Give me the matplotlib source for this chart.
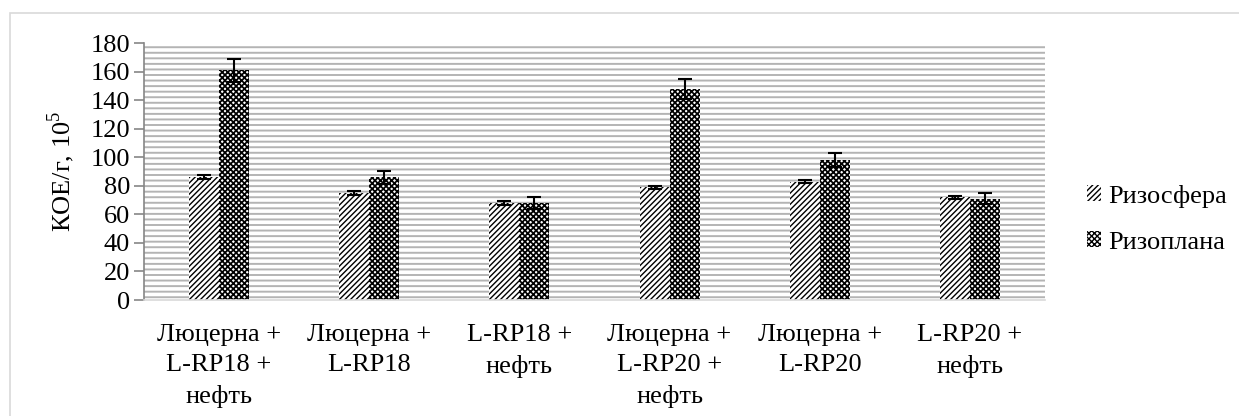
import numpy as np
import matplotlib.pyplot as plt
from matplotlib.patches import Rectangle

plt.rcParams['font.family'] = ['Liberation Serif', 'DejaVu Serif']
plt.rcParams['mathtext.fontset'] = 'custom'
plt.rcParams['mathtext.rm'] = 'Liberation Serif'

# данные
categories = ['Люцерна +\nL-RP18 +\nнефть', 'Люцерна +\nL-RP18', 'L-RP18 +\nнефть',
              'Люцерна +\nL-RP20 +\nнефть', 'Люцерна +\nL-RP20', 'L-RP20 +\nнефть']
rhizosphere = [86, 75, 68, 79, 83, 72]
rhizosphere_err = [1.5, 1.2, 1.5, 1.2, 1.2, 1.0]
rhizoplane = [161, 86, 68, 148, 98, 71]
rhizoplane_err = [8, 4.5, 4, 7, 5, 4]
yticks = np.arange(0, 181, 20)

fig = plt.figure(figsize=(12.39, 4.16), dpi=100)
ax = fig.add_axes([0.1162, 0.2788, 0.8434 - 0.1162, 0.8966 - 0.2788])

# рамка диаграммы (видны только левая и верхняя стороны)
fig.patches.append(Rectangle((10 / 1239, -0.1), 1.2, 1 - 13 / 416 + 0.1, transform=fig.transFigure,
                             facecolor='none', edgecolor='#d9d9d9', linewidth=1.2))

# фон области построения — узкие горизонтальные линии
with plt.rc_context({'hatch.linewidth': 1.4}):
    bg = Rectangle((0, 0), 1, 1, transform=ax.transAxes, facecolor='white',
                   edgecolor='#b4b4b4', hatch='---', linewidth=0, zorder=0)
    ax.add_patch(bg)

x = np.arange(len(categories))
w = 0.2
with plt.rc_context({'hatch.linewidth': 1.0}):
    b1 = ax.bar(x - w / 2, rhizosphere, w, color='white', edgecolor='black', hatch='//////',
                linewidth=0, label='Ризосфера', zorder=2)
with plt.rc_context({'hatch.linewidth': 1.25}):
    b2 = ax.bar(x + w / 2, rhizoplane, w, color='white', edgecolor='black', hatch='xxxxxx',
                linewidth=0, label='Ризоплана', zorder=2)
ax.errorbar(x - w / 2, rhizosphere, yerr=rhizosphere_err, fmt='none', ecolor='black',
            elinewidth=1.5, capsize=5, capthick=1.5, zorder=3)
ax.errorbar(x + w / 2, rhizoplane, yerr=rhizoplane_err, fmt='none', ecolor='black',
            elinewidth=1.5, capsize=5, capthick=1.5, zorder=3)

ax.set_xlim(-0.5, len(categories) - 0.5)
ax.set_ylim(0, 180)
ax.set_yticks(yticks)
ax.set_xticks(x)
ax.set_xticklabels(categories, fontsize=19, linespacing=1.5)
ax.tick_params(axis='x', length=0, pad=17)
ax.tick_params(axis='y', length=7, width=1.2, color='#868686', labelsize=19, pad=3)
for s in ['top', 'right']:
    ax.spines[s].set_visible(False)
ax.spines['left'].set_color('#868686')
ax.spines['left'].set_linewidth(1.2)
ax.spines['bottom'].set_color('#d9d9d9')
ax.spines['bottom'].set_linewidth(1.2)

ax.set_ylabel('КОЕ/г, 10$^5$', fontsize=19, labelpad=10)

ax.legend(loc='center left', bbox_to_anchor=(1.02, 0.315), frameon=False, fontsize=19,
          handlelength=0.55, handleheight=0.55, handletextpad=0.25, labelspacing=0.9)

fig.savefig('out.png', dpi=100)
